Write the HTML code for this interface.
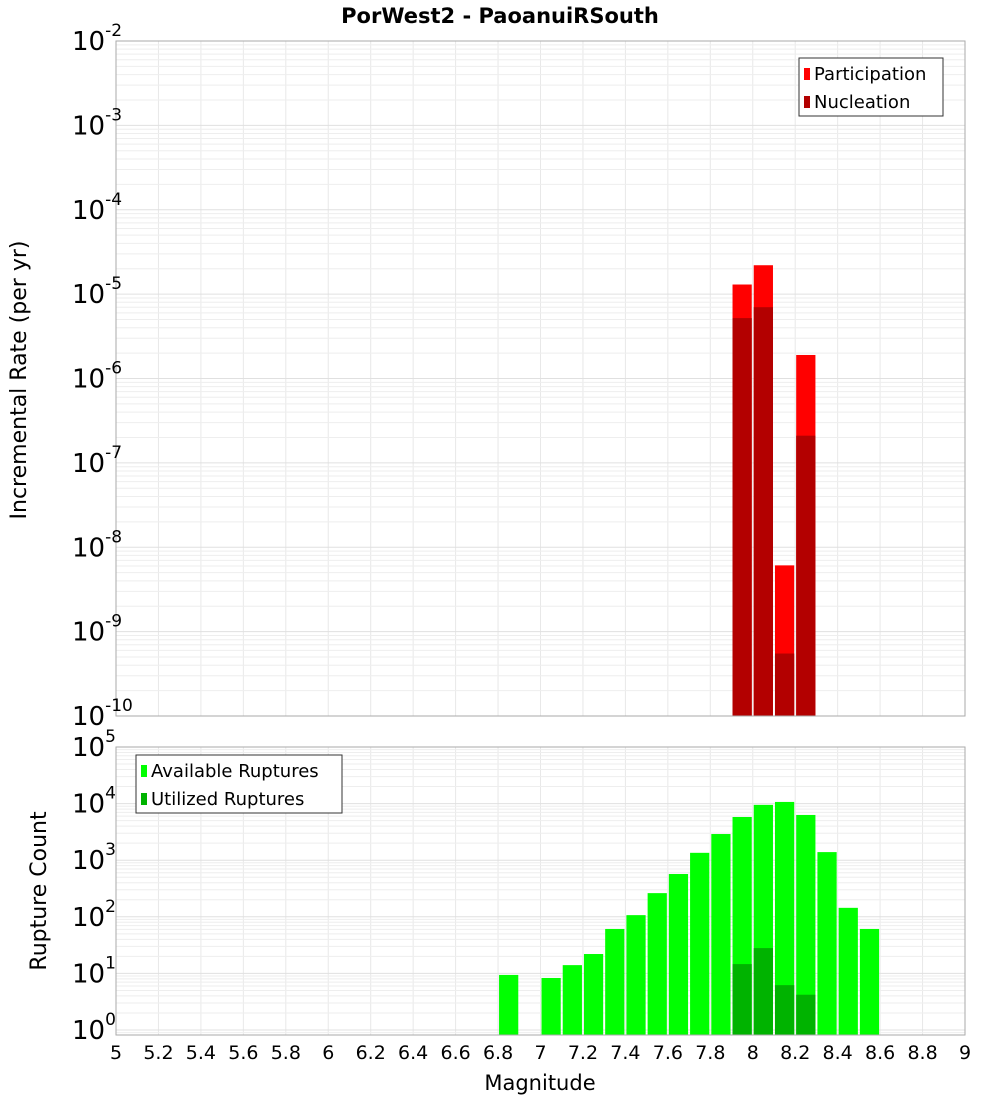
<!DOCTYPE html>
<html><head><meta charset="utf-8"><style>
body{margin:0;background:#fff;font-family:"Liberation Sans","DejaVu Sans",sans-serif}
svg text{font-family:"DejaVu Sans","Liberation Sans",sans-serif}
</style></head><body>
<svg id="c" width="1000" height="1100" xmlns="http://www.w3.org/2000/svg"></svg>
<script>
const xTicks=[5,5.2,5.4,5.6,5.8,6,6.2,6.4,6.6,6.8,7,7.2,7.4,7.6,7.8,8,8.2,8.4,8.6,8.8,9];
const xTickLabels=["5","5.2","5.4","5.6","5.8","6","6.2","6.4","6.6","6.8","7","7.2","7.4","7.6","7.8","8","8.2","8.4","8.6","8.8","9"];
const rateMags=[7.95,8.05,8.15,8.25];
const participation=[1.3e-5,2.2e-5,6.1e-9,1.9e-6];
const nucleation=[5.2e-6,7e-6,5.5e-10,2.1e-7];
const countMags=[6.85,7.05,7.15,7.25,7.35,7.45,7.55,7.65,7.75,7.85,7.95,8.05,8.15,8.25,8.35,8.45,8.55];
const available=[9.4,8.3,14,22,61,107,262,570,1350,2900,5800,9500,10700,6300,1390,144,61];
const utilMags=[7.95,8.05,8.15,8.25];
const utilized=[14.6,28,6.2,4.2];
const topExps=[-2,-3,-4,-5,-6,-7,-8,-9,-10];
const botExps=[5,4,3,2,1,0];

const svg=document.getElementById('c');const NS='http://www.w3.org/2000/svg';
function mk(t,a,p){const e=document.createElementNS(NS,t);for(const k in a)e.setAttribute(k,a[k]);(p||svg).appendChild(e);return e;}
const X0=116,X1=965;
const xs=m=>X0+(m-5)/4*(X1-X0);
const T={top:41,bot:716,lmax:-2,lmin:-10};
const B={top:747,bot:1035,l5:747,dec:56.6};
const yT=v=>T.top+(T.lmax-Math.log10(v))*(T.bot-T.top)/(T.lmax-T.lmin);
const yB=v=>B.l5+(5-Math.log10(v))*B.dec;
const bw=(X1-X0)/40;

function grid(top,bot,yf,dmin,dmax,lo){
  for(const m of xTicks){const l=mk('line',{x1:xs(m),x2:xs(m),y1:top,y2:bot,stroke:'#e8e8e8'});}
  for(let d=dmin;d<=dmax;d++)for(let k=1;k<10;k++){const v=k*Math.pow(10,d);const y=yf(v);if(y<top-0.5||y>bot)continue;const l=mk('line',{x1:X0,x2:X1,y1:y,y2:y,stroke:k==1?'#e0e0e0':'#eeeeee'});}
}
grid(T.top,T.bot,yT,-10,-3);
grid(B.top,B.bot,yB,-1,4);

function bar(m,v,yf,bot,fill,name){const y=yf(v);const r=mk('rect',{x:xs(m)-bw/2+1,y:y,width:bw-2,height:bot-y,fill:fill});}
rateMags.forEach((m,i)=>bar(m,participation[i],yT,T.bot,'#ff0000','participation-bar'));
rateMags.forEach((m,i)=>bar(m,nucleation[i],yT,T.bot,'#b30000','nucleation-bar'));
countMags.forEach((m,i)=>bar(m,available[i],yB,B.bot,'#00ff00','available-bar'));
utilMags.forEach((m,i)=>bar(m,utilized[i],yB,B.bot,'#00b300','utilized-bar'));

let f=mk('rect',{x:X0,y:T.top,width:X1-X0,height:T.bot-T.top,fill:'none',stroke:'#aaa'});
f=mk('rect',{x:X0,y:B.top,width:X1-X0,height:B.bot-B.top,fill:'none',stroke:'#aaa'});

function ylab(exp,y,name){const t=mk('text',{x:107,y:y+9,'font-size':26,'text-anchor':'end'});
 const a=mk('tspan',{},t);a.textContent='10';const b=mk('tspan',{dy:-14,'font-size':17},t);b.textContent=String(exp);
 t.setAttribute('text-anchor','start');t.setAttribute('x',72);}
topExps.forEach(e=>ylab(e,yT(Math.pow(10,e)),'top-y-tick-label'));
botExps.forEach(e=>ylab(e,yB(Math.pow(10,e)),'bottom-y-tick-label'));
xTicks.forEach((m,i)=>{const t=mk('text',{x:xs(m),y:1059,'font-size':19,'text-anchor':'middle'});t.textContent=xTickLabels[i];});

let t=mk('text',{x:500,y:23,'font-size':21,'font-weight':'bold','text-anchor':'middle'});t.textContent='PorWest2 - PaoanuiRSouth';
t=mk('text',{x:540,y:1090,'font-size':21,'text-anchor':'middle'});t.textContent='Magnitude';
t=mk('text',{x:0,y:0,'font-size':22,'text-anchor':'middle',transform:'translate(26,380) rotate(-90)'});t.textContent='Incremental Rate (per yr)';
t=mk('text',{x:0,y:0,'font-size':22,'text-anchor':'middle',transform:'translate(46,891) rotate(-90)'});t.textContent='Rupture Count';

function legend(x,y,w,items,name){const g=mk('g',{});
 mk('rect',{x:x,y:y,width:w,height:58,fill:'#fff',stroke:'#333'},g);
 items.forEach((it,i)=>{const r=mk('rect',{x:x+5,y:y+10+i*28,width:6,height:12,fill:it[1]},g);
  const tt=mk('text',{x:x+15,y:y+22+i*28,'font-size':18},g);tt.textContent=it[0];});}
legend(799,58,144,[['Participation','#ff0000'],['Nucleation','#b30000']],'top-legend');
legend(136,755,206,[['Available Ruptures','#00ff00'],['Utilized Ruptures','#00b300']],'bottom-legend');
</script>
</body></html>
